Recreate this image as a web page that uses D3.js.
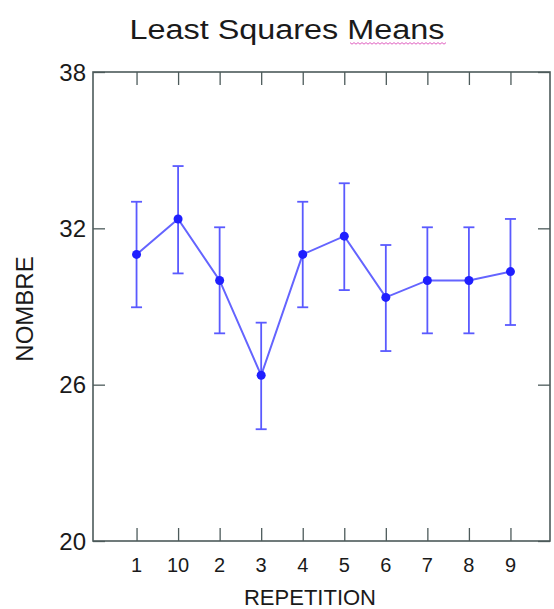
<!DOCTYPE html>
<html>
<head>
<meta charset="utf-8">
<script src="https://cdn.jsdelivr.net/npm/d3@7"></script>
<style>
  body { margin: 0; background: #fff; }
  text { font-family: "Liberation Sans", Arial, sans-serif; fill: #1a1a1a; }
</style>
</head>
<body>
<svg id="chart" width="554" height="609"></svg>
<script>
// data
const repetitions = ["1", "10", "2", "3", "4", "5", "6", "7", "8", "9"];
const means = [31.0, 32.36, 30.0, 26.36, 31.0, 31.7, 29.35, 30.0, 30.0, 30.34];
const lower = [28.97, 30.27, 27.97, 24.29, 28.97, 29.63, 27.29, 27.97, 27.97, 28.29];
const upper = [33.02, 34.39, 32.04, 28.38, 33.02, 33.73, 31.36, 32.04, 32.04, 32.36];
const yTicks = [20, 26, 32, 38];

const rows = repetitions.map((r, i) => ({ r, m: means[i], lo: lower[i], hi: upper[i] }));

const plotL = 93, plotR = 550, plotT = 72, plotB = 541;
const svg = d3.select("#chart");

const x = d3.scalePoint().domain(repetitions).range([plotL + 2, plotR + 2]).padding(1);
const y = d3.scaleLinear().domain([20, 38]).range([plotB, plotT]);

const frame = "#4d5b5b";

// title
svg.append("text")
  .attr("x", 287).attr("y", 39)
  .attr("text-anchor", "middle")
  .attr("font-size", 27)
  .attr("textLength", 315).attr("lengthAdjust", "spacingAndGlyphs")
  .text("Least Squares Means");
// spell-check squiggle under "Means"
const sq = d3.range(0, 98, 2).map((d, i) => [350 + d, 43 + (i % 2 ? 1.2 : -0.4)]);
svg.append("path")
  .attr("d", d3.line()(sq))
  .attr("fill", "none").attr("stroke", "#e060c0").attr("stroke-width", 1);

// axes: ticks pointing inward
svg.append("g").attr("transform", `translate(0,${plotB})`)
  .call(d3.axisTop(x).tickSize(13).tickFormat(""))
  .call(g => g.select(".domain").remove());
svg.append("g").attr("transform", `translate(0,${plotT})`)
  .call(d3.axisBottom(x).tickSize(13).tickFormat(""))
  .call(g => g.select(".domain").remove());
svg.append("g").attr("transform", `translate(${plotL},0)`)
  .call(d3.axisRight(y).tickValues(yTicks).tickSize(12).tickFormat(""))
  .call(g => g.select(".domain").remove());
svg.append("g").attr("transform", `translate(${plotR},0)`)
  .call(d3.axisLeft(y).tickValues(yTicks).tickSize(12).tickFormat(""))
  .call(g => g.select(".domain").remove());
svg.selectAll(".tick line").attr("stroke", frame).attr("stroke-width", 1.3);

// frame
svg.append("rect")
  .attr("x", plotL).attr("y", plotT)
  .attr("width", plotR - plotL).attr("height", plotB - plotT)
  .attr("fill", "none").attr("stroke", frame).attr("stroke-width", 1.6);

// tick labels
svg.selectAll(".xlab").data(repetitions).join("text")
  .attr("x", d => x(d)).attr("y", 572)
  .attr("text-anchor", "middle").attr("font-size", 20)
  .text(d => d);
svg.selectAll(".ylab").data(yTicks).join("text")
  .attr("x", 86).attr("y", d => y(d) + 8.5)
  .attr("text-anchor", "end").attr("font-size", 24)
  .text(d => d);

// axis titles
svg.append("text")
  .attr("x", 310).attr("y", 605)
  .attr("text-anchor", "middle").attr("font-size", 22)
  .text("REPETITION");
svg.append("text")
  .attr("transform", "translate(33,309) rotate(-90)")
  .attr("text-anchor", "middle").attr("font-size", 24)
  .text("NOMBRE");

// error bars
const bars = svg.append("g").attr("stroke", "#5a5aff").attr("stroke-width", 1.8);
bars.selectAll(".v").data(rows).join("line")
  .attr("x1", d => x(d.r)).attr("x2", d => x(d.r))
  .attr("y1", d => y(d.lo)).attr("y2", d => y(d.hi));
bars.selectAll(".cu").data(rows).join("line")
  .attr("x1", d => x(d.r) - 5.5).attr("x2", d => x(d.r) + 5.5)
  .attr("y1", d => y(d.hi)).attr("y2", d => y(d.hi));
bars.selectAll(".cl").data(rows).join("line")
  .attr("x1", d => x(d.r) - 5.5).attr("x2", d => x(d.r) + 5.5)
  .attr("y1", d => y(d.lo)).attr("y2", d => y(d.lo));

// mean line and points
svg.append("path")
  .datum(rows)
  .attr("d", d3.line().x(d => x(d.r)).y(d => y(d.m)))
  .attr("fill", "none").attr("stroke", "#6464ff").attr("stroke-width", 2);
svg.selectAll(".pt").data(rows).join("circle")
  .attr("cx", d => x(d.r)).attr("cy", d => y(d.m)).attr("r", 4.5)
  .attr("fill", "#1f1fff");
</script>
</body>
</html>
